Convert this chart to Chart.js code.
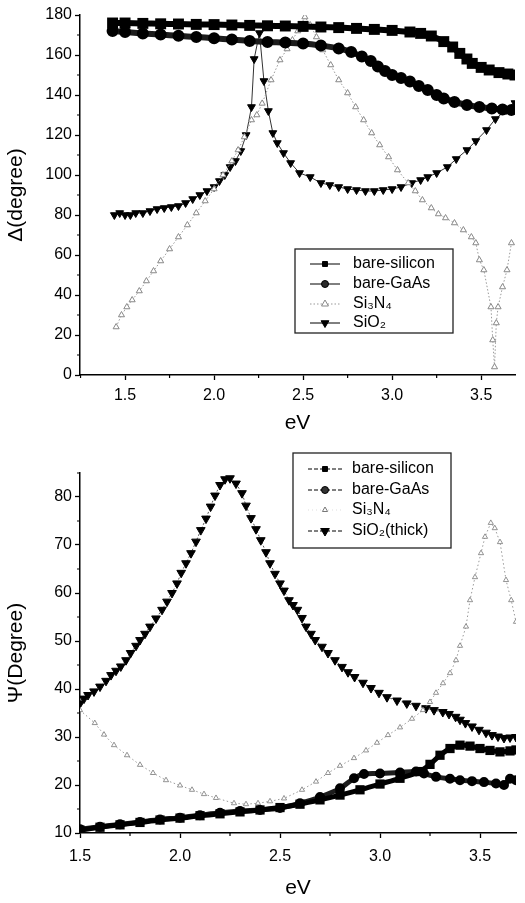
<!DOCTYPE html>
<html>
<head>
<meta charset="utf-8">
<script src="https://cdn.jsdelivr.net/npm/chart.js@4.4.1/dist/chart.umd.min.js"></script>
<style>
body { margin: 0; background: #fff; }
#top { position: absolute; left: 0; top: 0; width: 525px; height: 440px; }
#bottom { position: absolute; left: 0; top: 440px; width: 525px; height: 463px; }
</style>
</head>
<body>
<div id="top"><canvas id="chart-delta"></canvas></div>
<div id="bottom"><canvas id="chart-psi"></canvas></div>
<script>
// ---- Delta (top panel) ----
var deltaXTicks = [1.5, 2.0, 2.5, 3.0, 3.5];
var deltaXMinor = [1.25, 1.75, 2.25, 2.75, 3.25];
var deltaYTicks = [0, 20, 40, 60, 80, 100, 120, 140, 160, 180];
var deltaYMinor = [10, 30, 50, 70, 90, 110, 130, 150, 170];

var deltaEvSilicon = [1.43,1.5,1.6,1.7,1.8,1.9,2.0,2.1,2.2,2.3,2.4,2.5,2.6,2.7,2.8,2.9,3.0,3.1,3.16,3.22,3.29,3.34,3.38,3.42,3.45,3.5,3.545,3.6,3.65,3.69];
var deltaSilicon = [176,176,175.8,175.6,175.5,175.3,175.2,175,174.8,174.6,174.5,174.3,174,173.7,173.3,172.8,172.3,171.5,170.8,169.5,166.7,164,160.8,158,155.8,153.8,152.5,151.2,150.5,150];

var deltaEvGaAs = [1.43,1.5,1.6,1.7,1.8,1.9,2.0,2.1,2.2,2.3,2.4,2.5,2.6,2.7,2.77,2.83,2.88,2.92,2.96,3.0,3.05,3.1,3.15,3.2,3.25,3.29,3.35,3.42,3.49,3.56,3.62,3.67];
var deltaGaAs = [172,171.5,170.8,170.2,169.6,169,168.4,167.7,167,166.5,166.2,165.7,164.7,163.3,161.5,159.2,157,154.2,152,150,148.5,146.7,144.5,142.5,140,138.3,136.5,135,134,133.3,132.8,132.5];

var deltaEvSi3N4 = [1.45,1.48,1.51,1.54,1.58,1.62,1.66,1.70,1.75,1.80,1.85,1.90,1.95,2.00,2.05,2.10,2.135,2.17,2.21,2.24,2.27,2.32,2.37,2.41,2.44,2.47,2.51,2.54,2.575,2.61,2.655,2.70,2.75,2.795,2.84,2.885,2.93,2.98,3.03,3.09,3.13,3.17,3.22,3.26,3.30,3.35,3.40,3.445,3.47,3.49,3.515,3.555,3.565,3.575,3.585,3.595,3.62,3.645,3.67];
var deltaSi3N4 = [24,30,34,37.5,42,47,52,57,63,69,75,81,87,93,100,107,112.5,119,127.5,130,135.8,147.5,157.5,163,167.5,172,179,175,169,162.5,155,147.5,141,134,127.5,121,115,109,102.5,96,92,87.5,83.5,80.5,78.5,76,72.5,69,66,57.5,52.5,34,17.5,4,26,34,44,52.5,66];

var deltaEvSiO2 = [1.44,1.47,1.50,1.53,1.56,1.60,1.64,1.68,1.72,1.76,1.80,1.84,1.88,1.92,1.96,2.00,2.03,2.06,2.09,2.12,2.15,2.18,2.21,2.225,2.255,2.28,2.305,2.33,2.355,2.39,2.43,2.48,2.54,2.60,2.65,2.70,2.75,2.80,2.85,2.90,2.95,3.00,3.05,3.11,3.16,3.20,3.25,3.31,3.36,3.42,3.47,3.53,3.58,3.64,3.69];
var deltaSiO2 = [80,81,80,80,81,81,82,83,83.5,84,84.5,86,88,90,92,94,97,100,104,107,112,120,134,158,171,147,132,121,116,111,106,101,99,96,95,94,93,92.5,92,92,92.5,93,94,96,97.5,99,101,104,108,112.5,117,122.5,128,132.5,136];

// ---- Psi (bottom panel) ----
var psiXTicks = [1.5, 2.0, 2.5, 3.0, 3.5];
var psiXMinor = [1.75, 2.25, 2.75, 3.25];
var psiYTicks = [10, 20, 30, 40, 50, 60, 70, 80];
var psiYMinor = [15, 25, 35, 45, 55, 65, 75, 85];

var psiEvSilicon = [1.5,1.6,1.7,1.8,1.9,2.0,2.1,2.2,2.3,2.4,2.5,2.6,2.7,2.8,2.9,3.0,3.1,3.2,3.25,3.3,3.35,3.4,3.45,3.5,3.55,3.6,3.65,3.68];
var psiSilicon = [10.6,11.2,11.7,12.2,12.7,13.1,13.6,14,14.4,14.8,15.3,16,16.9,17.9,19,20.2,21.4,22.8,24.3,26.2,27.6,28.3,28.1,27.6,27.2,26.9,27.1,27.3];

var psiEvGaAs = [1.5,1.6,1.7,1.8,1.9,2.0,2.1,2.2,2.3,2.4,2.5,2.6,2.7,2.8,2.87,2.92,3.0,3.1,3.18,3.22,3.28,3.35,3.4,3.46,3.52,3.58,3.62,3.65,3.68];
var psiGaAs = [10.8,11.3,11.8,12.3,12.8,13.2,13.7,14.2,14.6,14.8,15.2,16.2,17.5,19.3,21.4,22.3,22.4,22.6,22.8,22.4,21.7,21.3,21,20.8,20.6,20.3,20,21.3,21];

var psiEvSi3N4 = [1.5,1.574,1.62,1.67,1.735,1.80,1.865,1.93,2.0,2.06,2.12,2.18,2.27,2.33,2.39,2.45,2.52,2.61,2.68,2.74,2.80,2.87,2.93,2.985,3.04,3.1,3.16,3.215,3.25,3.28,3.315,3.35,3.38,3.40,3.43,3.45,3.475,3.505,3.525,3.554,3.574,3.60,3.63,3.656,3.68];
var psiSi3N4 = [35.6,32.9,30.5,28.3,26.2,24.2,22.5,21,19.9,19,18.1,17.3,16.2,16,16.2,16.6,17.2,19,20.7,22.5,24,25.6,27.2,28.8,30.4,32,33.8,35.6,37.3,39.2,41.2,43.3,46,49,53,58.5,63.3,68.3,71.7,74.6,73.5,70.6,62.7,58.5,54];

var psiEvSiO2 = [1.5,1.52,1.54,1.57,1.6,1.63,1.655,1.68,1.704,1.73,1.753,1.78,1.80,1.825,1.85,1.88,1.91,1.935,1.96,1.985,2.006,2.03,2.055,2.08,2.104,2.13,2.153,2.175,2.2,2.225,2.25,2.28,2.31,2.33,2.355,2.38,2.404,2.43,2.45,2.475,2.5,2.52,2.545,2.565,2.587,2.61,2.63,2.655,2.676,2.71,2.74,2.775,2.81,2.84,2.873,2.915,2.955,2.995,3.035,3.085,3.134,3.18,3.23,3.27,3.314,3.345,3.378,3.40,3.427,3.46,3.495,3.53,3.56,3.59,3.62,3.65,3.68];
var psiSiO2 = [37,38,38.75,39.5,40.5,41.7,42.9,43.8,44.7,46,47.5,49,50.2,51.5,53,54.7,56.5,58.2,60,62,64.2,66.2,68.3,70.7,73.1,75.5,78,80.3,82.5,83.7,83.9,82.8,80.8,78.2,75.6,73.3,71,68.5,66.2,64,62,60.5,58.5,57.5,56.5,54.8,53,51.5,50.2,48.8,47.5,46,44.6,43.5,42.5,41.3,40.2,39.2,38.3,37.6,37,36.5,36,35.6,35.2,34.8,34.2,33.6,32.9,32.2,31.5,30.9,30.4,30.1,29.8,29.9,30];

Chart.defaults.font.family = "'Liberation Sans', Arial, sans-serif";
Chart.defaults.color = "#000";

function pts(xs, ys) {
	var out = [];
	for (var i = 0; i < xs.length; i++) {
		out.push({x: xs[i], y: ys[i]});
	}
	return out;
}

// short minor ticks, Chart.js only has one tick length
var minorTicks = {
	id: 'minorTicks',
	afterDraw: function(chart, args, opts) {
		var ctx = chart.ctx;
		var xs = chart.scales.x, ys = chart.scales.y;
		ctx.save();
		ctx.strokeStyle = "#000";
		ctx.lineWidth = 1.2;
		ctx.beginPath();
		opts.x.forEach(function(v) {
			var px = xs.getPixelForValue(v);
			if (px < xs.left || px > xs.right) return;
			ctx.moveTo(px, xs.top);
			ctx.lineTo(px, xs.top + 3);
		});
		opts.y.forEach(function(v) {
			var py = ys.getPixelForValue(v);
			if (py < ys.top - 1 || py > ys.bottom) return;
			ctx.moveTo(ys.right, py);
			ctx.lineTo(ys.right - 3, py);
		});
		ctx.stroke();
		ctx.restore();
	}
};

// boxed legend inside the plot, like the original figure
var boxLegend = {
	id: 'boxLegend',
	afterDraw: function(chart, args, opts) {
		var ctx = chart.ctx;
		var b = opts.box;
		ctx.save();
		ctx.fillStyle = "#fff";
		ctx.fillRect(b[0], b[1], b[2] - b[0], b[3] - b[1]);
		ctx.strokeStyle = "#222";
		ctx.lineWidth = 1.3;
		ctx.strokeRect(b[0], b[1], b[2] - b[0], b[3] - b[1]);
		ctx.font = "16px 'Liberation Sans', Arial, sans-serif";
		ctx.textBaseline = "middle";
		opts.items.forEach(function(item, i) {
			var ds = chart.data.datasets[item.ds];
			var y = opts.rows[i];
			ctx.setLineDash(item.dash || []);
			ctx.strokeStyle = item.lineColor;
			ctx.lineWidth = 1;
			ctx.beginPath();
			ctx.moveTo(opts.lineX[0], y);
			ctx.lineTo(opts.lineX[1], y);
			ctx.stroke();
			ctx.setLineDash([]);
			ctx.fillStyle = ds.pointBackgroundColor;
			ctx.strokeStyle = ds.pointBorderColor;
			ctx.lineWidth = 1;
			Chart.helpers.drawPoint(ctx, {
				pointStyle: ds.pointStyle,
				rotation: ds.pointRotation || 0,
				radius: item.radius,
				borderWidth: 1
			}, (opts.lineX[0] + opts.lineX[1]) / 2, y);
			ctx.fillStyle = "#000";
			ctx.fillText(item.text, opts.textX, y);
		});
		ctx.restore();
	}
};

function axes(xMin, xMax, xTicks, yMin, yMax, yTicks, yTitle, xHeight, xPad, titlePad) {
	return {
		x: {
			type: 'linear',
			min: xMin,
			max: xMax,
			afterBuildTicks: function(s) { s.ticks = xTicks.map(function(v) { return {value: v}; }); },
			afterFit: function(s) { s.height = xHeight; },
			grid: { drawOnChartArea: false, tickLength: 5, tickColor: "#000", tickWidth: 1.3 },
			border: { color: "#000", width: 1.5 },
			ticks: {
				padding: xPad,
				font: { size: 16 },
				maxRotation: 0,
				callback: function(v) { return v.toFixed(1); }
			},
			title: { display: true, text: 'eV', font: { size: 21 }, padding: { top: 0, bottom: titlePad } }
		},
		y: {
			min: yMin,
			max: yMax,
			afterBuildTicks: function(s) { s.ticks = yTicks.map(function(v) { return {value: v}; }); },
			afterFit: function(s) { s.width = 80; },
			grid: { drawOnChartArea: false, tickLength: 5, tickColor: "#000", tickWidth: 1.3 },
			border: { color: "#000", width: 1.5 },
			ticks: { padding: 3, font: { size: 16 } },
			title: { display: true, text: yTitle, font: { size: 21 }, padding: { top: 4, bottom: 0 } }
		}
	};
}

var deltaChart = new Chart('chart-delta', {
	type: 'line',
	data: {
		datasets: [{
			label: 'bare-silicon',
			data: pts(deltaEvSilicon, deltaSilicon),
			borderColor: "#000",
			borderWidth: 6,
			pointStyle: 'rect',
			pointRadius: 3.5,
			pointBackgroundColor: "#000",
			pointBorderColor: "#000",
			tension: 0.3
		}, {
			label: 'bare-GaAs',
			data: pts(deltaEvGaAs, deltaGaAs),
			borderColor: "#1c1c1c",
			borderWidth: 6,
			pointStyle: 'circle',
			pointRadius: 3,
			pointBackgroundColor: "#2a2a2a",
			pointBorderColor: "#000",
			tension: 0.3
		}, {
			label: 'Si₃N₄',
			data: pts(deltaEvSi3N4, deltaSi3N4),
			borderColor: "#999",
			borderWidth: 1,
			borderDash: [1.5, 2],
			pointStyle: 'triangle',
			pointRadius: 3.5,
			pointBorderWidth: 1,
			pointBackgroundColor: "#fff",
			pointBorderColor: "#888",
			tension: 0
		}, {
			label: 'SiO₂',
			data: pts(deltaEvSiO2, deltaSiO2),
			borderColor: "#333",
			borderWidth: 1,
			pointStyle: 'triangle',
			pointRotation: 180,
			pointRadius: 4.5,
			pointBackgroundColor: "#000",
			pointBorderColor: "#000",
			tension: 0
		}]
	},
	options: {
		animation: false,
		responsive: true,
		maintainAspectRatio: false,
		layout: { padding: { top: 15, right: 0, left: 0, bottom: 0 } },
		plugins: {
			legend: { display: false },
			tooltip: { enabled: false },
			minorTicks: { x: deltaXMinor, y: deltaYMinor },
			boxLegend: {
				box: [295, 249, 453, 333],
				rows: [264, 284, 304, 323],
				lineX: [310, 340],
				textX: 353,
				items: [
					{ text: 'bare-silicon', ds: 0, lineColor: "#000", radius: 3.5 },
					{ text: 'bare-GaAs', ds: 1, lineColor: "#000", radius: 3.5 },
					{ text: 'Si₃N₄', ds: 2, lineColor: "#999", dash: [1.5, 2], radius: 4 },
					{ text: 'SiO₂', ds: 3, lineColor: "#000", radius: 4.5 }
				]
			}
		},
		scales: axes(1.247, 3.69, deltaXTicks, 0, 180, deltaYTicks, 'Δ(degree)', 65, 6, 4)
	},
	plugins: [minorTicks, boxLegend]
});

var psiChart = new Chart('chart-psi', {
	type: 'line',
	data: {
		datasets: [{
			label: 'bare-silicon',
			data: pts(psiEvSilicon, psiSilicon),
			borderColor: "#000",
			borderWidth: 5,
			pointStyle: 'rect',
			pointRadius: 3,
			pointBackgroundColor: "#000",
			pointBorderColor: "#000",
			tension: 0.3
		}, {
			label: 'bare-GaAs',
			data: pts(psiEvGaAs, psiGaAs),
			borderColor: "#1c1c1c",
			borderWidth: 5,
			pointStyle: 'circle',
			pointRadius: 2.5,
			pointBackgroundColor: "#333",
			pointBorderColor: "#000",
			tension: 0.3
		}, {
			label: 'Si₃N₄',
			data: pts(psiEvSi3N4, psiSi3N4),
			borderColor: "#999",
			borderWidth: 1,
			borderDash: [1.5, 2.5],
			pointStyle: 'triangle',
			pointRadius: 3,
			pointBorderWidth: 0.8,
			pointBackgroundColor: "#fff",
			pointBorderColor: "#777",
			tension: 0
		}, {
			label: 'SiO₂(thick)',
			data: pts(psiEvSiO2, psiSiO2),
			borderColor: "#555",
			borderWidth: 1,
			borderDash: [2, 2],
			pointStyle: 'triangle',
			pointRotation: 180,
			pointRadius: 5,
			pointBackgroundColor: "#000",
			pointBorderColor: "#000",
			tension: 0
		}]
	},
	options: {
		animation: false,
		responsive: true,
		maintainAspectRatio: false,
		layout: { padding: { top: 33, right: 0, left: 0, bottom: 0 } },
		plugins: {
			legend: { display: false },
			tooltip: { enabled: false },
			minorTicks: { x: psiXMinor, y: psiYMinor },
			boxLegend: {
				box: [293, 13, 451, 108],
				rows: [29, 50, 70, 91],
				lineX: [308, 342],
				textX: 352,
				items: [
					{ text: 'bare-silicon', ds: 0, lineColor: "#000", dash: [4, 2], radius: 3.5 },
					{ text: 'bare-GaAs', ds: 1, lineColor: "#000", dash: [4, 2], radius: 3.5 },
					{ text: 'Si₃N₄', ds: 2, lineColor: "#ddd", dash: [1, 3], radius: 3 },
					{ text: 'SiO₂(thick)', ds: 3, lineColor: "#000", dash: [4, 2], radius: 5 }
				]
			}
		},
		scales: axes(1.5, 3.68, psiXTicks, 10, 85, psiYTicks, 'Ψ(Degree)', 70, 9, 2)
	},
	plugins: [minorTicks, boxLegend]
});
</script>
</body>
</html>
